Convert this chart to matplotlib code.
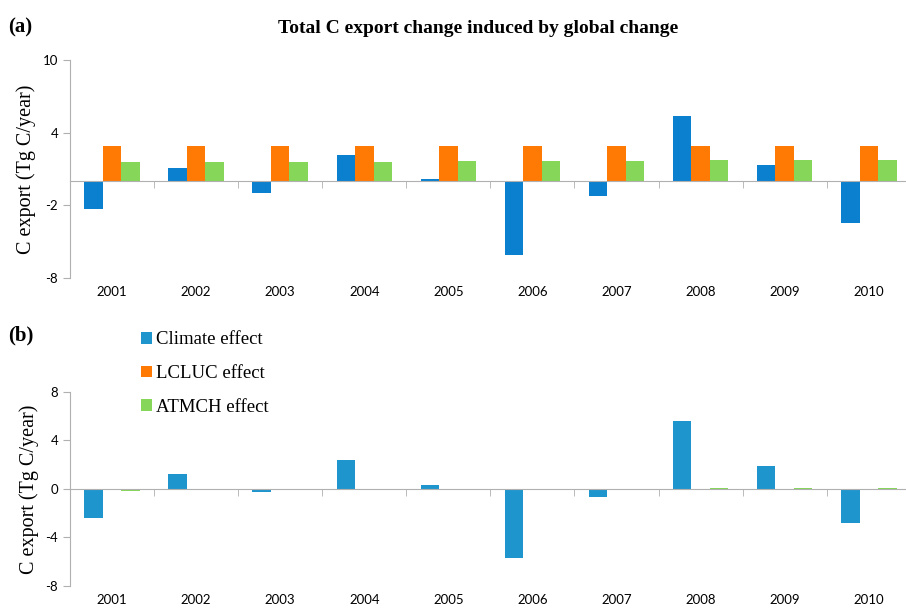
import matplotlib.pyplot as plt
import numpy as np

plt.rcParams['font.family'] = 'Liberation Serif'
plt.rcParams['axes.unicode_minus'] = False

years = ['2001', '2002', '2003', '2004', '2005', '2006', '2007', '2008', '2009', '2010']

# (a) total C export change, Tg C/year
climate_a = [-2.31, 1.07, -0.95, 2.15, 0.19, -6.06, -1.21, 5.34, 1.37, -3.42]
lcluc_a = [2.91, 2.91, 2.91, 2.91, 2.91, 2.91, 2.91, 2.91, 2.91, 2.91]
atmch_a = [1.54, 1.56, 1.59, 1.61, 1.65, 1.67, 1.70, 1.71, 1.74, 1.78]

# (b)
climate_b = [-2.36, 1.20, -0.22, 2.39, 0.35, -5.67, -0.63, 5.57, 1.89, -2.77]
lcluc_b = [0.0, 0.0, 0.0, 0.0, 0.0, 0.0, 0.0, 0.0, 0.0, 0.0]
atmch_b = [-0.15, -0.08, -0.08, -0.08, -0.02, 0.0, 0.0, 0.08, 0.08, 0.08]

yticks_a = [-8, -2, 4, 10]
yticks_b = [-8, -4, 0, 4, 8]

orange = '#ff7a05'
green = '#86d65a'
gray = '#b0b0b0'

fig = plt.figure(figsize=(9.06, 6.13), dpi=100)
ax_a = fig.add_axes([0.0773, 0.5465, 0.928, 0.3556])
ax_b = fig.add_axes([0.0773, 0.044, 0.928, 0.317])

x = np.arange(len(years))
w = 0.22


def draw(ax, climate, lcluc, atmch, blue, yticks, ylim):
    ax.bar(x - w, climate, w, color=blue, label='Climate effect')
    ax.bar(x, lcluc, w, color=orange, label='LCLUC effect')
    ax.bar(x + w, atmch, w, color=green, label='ATMCH effect')
    ax.set_xlim(-0.5, len(years) - 0.5)
    ax.set_ylim(*ylim)
    ax.set_yticks(yticks)
    ax.set_xticks(x)
    ax.set_xticklabels(years)
    ax.set_xticks(np.arange(len(years) + 1) - 0.5, minor=True)
    # zero line carries the category separators
    ax.spines['top'].set_position(('data', 0))
    ax.spines['top'].set_color(gray)
    ax.spines['left'].set_color(gray)
    ax.spines['right'].set_visible(False)
    ax.spines['bottom'].set_visible(False)
    ax.tick_params(axis='x', which='major', length=0, pad=6, labelsize=9.5)
    ax.tick_params(axis='x', which='minor', top=True, bottom=False,
                   direction='in', length=5, color=gray)
    ax.tick_params(axis='y', length=5, color=gray, labelsize=9.5)
    for t in ax.get_xticklabels() + ax.get_yticklabels():
        t.set_family('Lato')
    ax.set_ylabel('C export (Tg C/year)', fontsize=14.5, labelpad=5)


draw(ax_a, climate_a, lcluc_a, atmch_a, '#0a80cf', yticks_a, (-8, 10))
draw(ax_b, climate_b, lcluc_b, atmch_b, '#1f95cd', yticks_b, (-8, 8))

fig.text(0.009, 0.955, '(a)', fontsize=15, fontweight='bold', va='center')
fig.text(0.009, 0.452, '(b)', fontsize=15, fontweight='bold', va='center')
fig.text(0.528, 0.953, 'Total C export change induced by global change',
         fontsize=14, fontweight='bold', ha='center', va='center')

ax_b.legend(loc='upper left', bbox_to_anchor=(0.075, 1.35), frameon=False,
            fontsize=13.5, handlelength=0.6, handleheight=0.6, handletextpad=0.2,
            labelspacing=0.9, borderaxespad=0)

fig.savefig('out.png', dpi=100)
